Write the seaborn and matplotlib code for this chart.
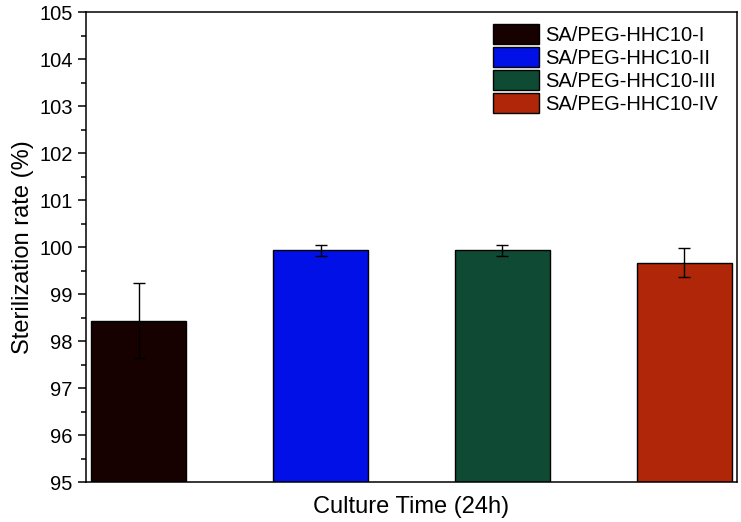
import pandas as pd
import matplotlib.pyplot as plt
import seaborn as sns

# values
groups = ['SA/PEG-HHC10-I', 'SA/PEG-HHC10-II', 'SA/PEG-HHC10-III', 'SA/PEG-HHC10-IV']
rates = [98.43, 99.93, 99.93, 99.67]
errors = [0.80, 0.12, 0.12, 0.31]
colors = ['#170000', '#0010E6', '#0F4A35', '#B02608']

data = pd.DataFrame({'group': groups, 'rate': rates})

sns.set_style('ticks')
plt.rcParams['font.family'] = ['Liberation Sans', 'DejaVu Sans']
plt.rcParams['text.color'] = 'black'
plt.rcParams['axes.labelcolor'] = 'black'
plt.rcParams['ytick.color'] = 'black'

fig = plt.figure(figsize=(7.41, 5.22), dpi=100)
ax = fig.add_axes([0.116, 0.0766, 0.8786, 0.9004])

sns.barplot(data=data, x='group', y='rate', hue='group', palette=colors, saturation=1,
            width=0.52, edgecolor='black', linewidth=1.0, legend=False, ax=ax)
ax.errorbar(range(len(groups)), rates, yerr=errors, fmt='none', ecolor='black',
            elinewidth=1.0, capsize=4, capthick=1.0)

ax.set_ylim(95, 105)
ax.set_xlim(-0.29, 3.29)
ax.set_yticks(range(95, 106))
ax.set_yticks([95.5 + i for i in range(10)], minor=True)
ax.set_xticks([])
ax.tick_params(axis='y', which='major', length=6, width=1.1, labelsize=14.5, direction='out')
ax.tick_params(axis='y', which='minor', length=3.5, width=1.1)
for s in ax.spines.values():
    s.set_linewidth(1.1)
    s.set_color('black')

ax.set_ylabel('Sterilization rate (%)', fontsize=17, labelpad=4)
ax.set_xlabel('Culture Time (24h)', fontsize=17, labelpad=10)

handles = [plt.Rectangle((0, 0), 1, 1, facecolor=c, edgecolor='black', linewidth=1.0) for c in colors]
ax.legend(handles, groups, loc='upper right', bbox_to_anchor=(0.992, 1.004), frameon=False,
          fontsize=14.5, handlelength=2.3, handleheight=1.15, labelspacing=0.1,
          handletextpad=0.3, borderaxespad=0.3)

fig.savefig('out.png', dpi=100)
